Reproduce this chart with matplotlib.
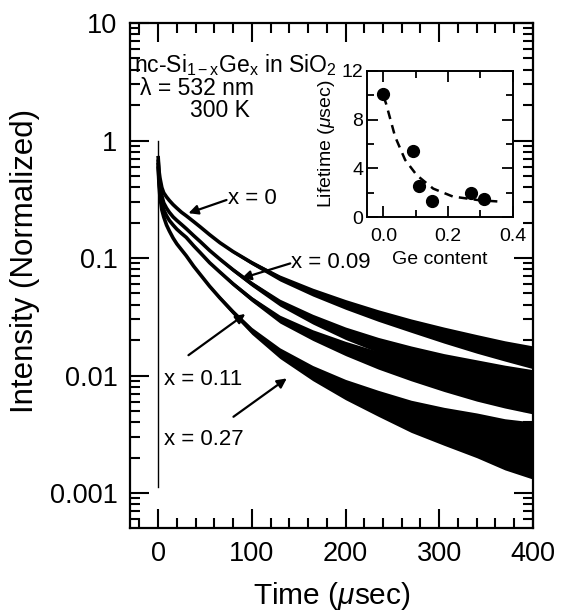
import numpy as np
import matplotlib.pyplot as plt
from matplotlib.ticker import MultipleLocator, LogLocator, NullFormatter

plt.rcParams['font.family'] = ['Liberation Sans', 'DejaVu Sans']
plt.rcParams['mathtext.fontset'] = 'custom'
plt.rcParams['mathtext.rm'] = 'Liberation Sans'
plt.rcParams['mathtext.it'] = 'Liberation Sans:italic'

# PL decay traces (time in usec, normalized intensity)
time_us = [0, 1, 2, 4, 6, 9, 12, 16, 20, 25, 30, 38, 45, 55, 66, 80, 100,
           130, 165, 200, 235, 270, 305, 340, 370, 400]
decay_x000 = [0.74, 0.55, 0.479, 0.398, 0.359, 0.331, 0.309, 0.285, 0.266, 0.245, 0.229,
              0.204, 0.184, 0.158, 0.135, 0.1135, 0.0912, 0.0676, 0.0513, 0.0403, 0.0324,
              0.0266, 0.0221, 0.0186, 0.0162, 0.0143]
decay_x009 = [0.69, 0.50, 0.417, 0.339, 0.295, 0.266, 0.245, 0.224, 0.209, 0.193, 0.178,
              0.155, 0.138, 0.116, 0.0977, 0.0794, 0.0603, 0.0417, 0.0302, 0.0229, 0.0182,
              0.0150, 0.0126, 0.0108, 0.0095, 0.0085]
decay_x011 = [0.646, 0.457, 0.372, 0.295, 0.257, 0.229, 0.209, 0.191, 0.176, 0.162, 0.150,
              0.127, 0.111, 0.0912, 0.0759, 0.0603, 0.0447, 0.0302, 0.0221, 0.0170, 0.0135,
              0.0111, 0.0093, 0.0080, 0.0072, 0.0066]
decay_x027 = [0.603, 0.417, 0.331, 0.257, 0.224, 0.191, 0.170, 0.148, 0.132, 0.1175, 0.1047,
              0.0851, 0.0724, 0.0575, 0.0457, 0.0347, 0.0240, 0.0155, 0.0105, 0.0076, 0.0058,
              0.0045, 0.0037, 0.0031, 0.0026, 0.0023]

# noise band (multiplicative half width)
noise_x000 = [1] * 11 + [1.005, 1.01, 1.015, 1.02, 1.03, 1.04, 1.06, 1.08, 1.10, 1.12,
                         1.14, 1.17, 1.2, 1.22, 1.25]
noise_x009 = [1] * 11 + [1.005, 1.01, 1.02, 1.03, 1.04, 1.05, 1.07, 1.10, 1.13, 1.16,
                         1.19, 1.22, 1.26, 1.29, 1.32]
noise_x011 = [1] * 11 + [1.005, 1.01, 1.02, 1.03, 1.04, 1.05, 1.08, 1.11, 1.15, 1.19,
                         1.23, 1.27, 1.32, 1.36, 1.40]
noise_x027 = [1] * 10 + [1.01, 1.015, 1.02, 1.03, 1.04, 1.05, 1.07, 1.11, 1.16, 1.22,
                         1.29, 1.37, 1.45, 1.55, 1.65, 1.75]

trigger_t = [0, 0]
trigger_v = [0.00113, 1.0]

# inset: lifetime vs Ge content
ge_content = [0.0, 0.09, 0.11, 0.15, 0.27, 0.31]
lifetime_us = [10.1, 5.4, 2.55, 1.3, 2.0, 1.5]
fit_ge = [0.0, 0.008, 0.036, 0.067, 0.103, 0.154, 0.215, 0.297, 0.354]
fit_lifetime = [9.9, 9.3, 6.6, 4.7, 3.45, 2.35, 1.7, 1.4, 1.3]

ytick_vals = [0.001, 0.01, 0.1, 1, 10]
ytick_labels = ['0.001', '0.01', '0.1', '1', '10']

fig = plt.figure(figsize=(5.61, 6.14), dpi=100)
ax = fig.add_axes([0.2317, 0.140, 0.7183, 0.8225])

curves = [(decay_x000, noise_x000), (decay_x009, noise_x009),
          (decay_x011, noise_x011), (decay_x027, noise_x027)]
for vals, noise in curves:
    v = np.array(vals)
    s = np.array(noise)
    ax.fill_between(time_us, v / s, v * s, color='black', lw=0)
    ax.plot(time_us, v, color='black', lw=2.6, solid_capstyle='butt')
ax.plot(trigger_t, trigger_v, color='black', lw=1.0)

ax.set_yscale('log')
ax.set_xlim(-30, 400)
ax.set_ylim(5.04e-4, 10)
ax.xaxis.set_major_locator(MultipleLocator(100))
ax.xaxis.set_minor_locator(MultipleLocator(20))
ax.set_yticks(ytick_vals, ytick_labels)
ax.yaxis.set_minor_locator(LogLocator(base=10, subs=np.arange(2, 10)))
ax.yaxis.set_minor_formatter(NullFormatter())
ax.tick_params(which='both', direction='in', top=True, right=True, width=1.5)
ax.tick_params(which='major', length=14, labelsize=19.5)
ax.tick_params(axis='x', which='major', pad=9)
ax.tick_params(axis='y', which='major', pad=9)
ax.tick_params(which='minor', length=7)
for sp in ax.spines.values():
    sp.set_linewidth(1.6)
ax.set_xlabel('Time ($\\mu$sec)', fontsize=21.5, labelpad=10)
ax.set_ylabel('Intensity (Normalized)', fontsize=22.5)
ax.yaxis.set_label_coords(-0.223, 0.529)

arrow = dict(arrowstyle='-|>', color='black', lw=1.6, mutation_scale=14, shrinkA=0, shrinkB=0)
ax.annotate('', xy=(32.4, 0.241), xytext=(73, 0.312), arrowprops=arrow)
ax.annotate('', xy=(89, 0.0672), xytext=(141, 0.090), arrowprops=arrow)
ax.annotate('', xy=(93, 0.0334), xytext=(32.4, 0.0149), arrowprops=arrow)
ax.annotate('', xy=(137.3, 0.00946), xytext=(80.4, 0.00446), arrowprops=arrow)
ax.text(75, 0.324, 'x = 0', fontsize=16, va='center')
ax.text(142, 0.0925, 'x = 0.09', fontsize=16, va='center')
ax.text(5.8, 0.00933, 'x = 0.11', fontsize=16, va='center')
ax.text(5.8, 0.00283, 'x = 0.27', fontsize=16, va='center')

fig.text(0.238, 0.8827, 'nc-Si$_{\\mathrm{1-x}}$Ge$_{\\mathrm{x}}$ in SiO$_{\\mathrm{2}}$', fontsize=16.5, va='baseline')
fig.text(0.2496, 0.8453, '\u03bb = 532 nm', fontsize=16.5, va='baseline')
fig.text(0.3387, 0.8094, '300 K', fontsize=16.5, va='baseline')

ins = fig.add_axes([0.6548, 0.646, 0.259, 0.239])
ins.plot(fit_ge, fit_lifetime, color='black', lw=1.8, linestyle=(0, (3.5, 2.5)))
ins.plot(ge_content, lifetime_us, 'o', color='black', ms=8.5)
ins.set_xlim(-0.05, 0.4)
ins.set_ylim(0, 12)
ins.xaxis.set_major_locator(MultipleLocator(0.2))
ins.xaxis.set_minor_locator(MultipleLocator(0.1))
ins.yaxis.set_major_locator(MultipleLocator(4))
ins.yaxis.set_minor_locator(MultipleLocator(2))
ins.set_xticks([0.0, 0.2, 0.4], ['0.0', '0.2', '0.4'])
ins.tick_params(which='both', direction='in', top=True, right=True, width=1.3, labelsize=14)
ins.tick_params(axis='x', which='major', pad=8)
ins.tick_params(axis='y', which='major', pad=3)
ins.tick_params(which='major', length=8)
ins.tick_params(which='minor', length=5)
for sp in ins.spines.values():
    sp.set_linewidth(1.4)
ins.set_xlabel('Ge content', fontsize=14, labelpad=4)
ins.set_ylabel('Lifetime ($\\mu$sec)', fontsize=14, labelpad=3)

fig.savefig('out.png', dpi=100)
